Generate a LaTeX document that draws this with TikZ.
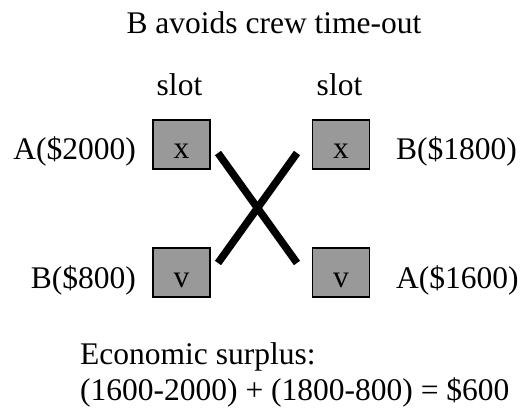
\documentclass[tikz,border=0pt]{standalone}
\usepackage{fontspec}
\setmainfont{Liberation Serif}
\definecolor{boxgray}{RGB}{153,153,153}
\begin{document}
\begin{tikzpicture}[x=1pt,y=-1pt,
  txt/.style={font=\fontsize{31.5}{36}\selectfont, inner sep=0pt},
  slotbox/.style={draw=black, line width=1.4pt, fill=boxgray, minimum width=57pt, minimum height=49pt, inner sep=0pt},
  cross/.style={line width=7.5pt}]
\useasboundingbox (0,0) rectangle (522,410);
\node[txt, anchor=base] (title) at (274,33) {B avoids crew time-out};
\node[txt, anchor=base] (slotL) at (179.5,95) {slot};
\node[txt, anchor=base] (slotR) at (339.5,95) {slot};
\node[slotbox] (xl) at (181.5,144.5) {};
\node[slotbox] (xr) at (341,144.5) {};
\node[slotbox] (vl) at (181.5,272.5) {};
\node[slotbox] (vr) at (341,272.5) {};
\node[txt, anchor=base] (xlt) at (xl.center |- 0,158.5) {x};
\node[txt, anchor=base] (xrt) at (xr.center |- 0,158.5) {x};
\node[txt, anchor=base] (vlt) at (vl.center |- 0,287) {v};
\node[txt, anchor=base] (vrt) at (vr.center |- 0,287) {v};
\node[txt, anchor=base east] (a2000) at (136,159.5) {A(\$2000)};
\node[txt, anchor=base east] (b800) at (136,288) {B(\$800)};
\node[txt, anchor=base west] (b1800) at (396,159.5) {B(\$1800)};
\node[txt, anchor=base west] (a1600) at (396,288) {A(\$1600)};
\coordinate (p1) at (218,153);
\coordinate (p2) at (297,263);
\coordinate (p3) at (297,153);
\coordinate (p4) at (218,263);
\draw[cross] (p1) -- (p2);
\draw[cross] (p3) -- (p4);
\node[txt, anchor=base west] (surplus1) at (80,364) {Economic surplus:};
\node[txt, anchor=base west] (surplus2) at (80,400) {(1600-2000) + (1800-800) = \$600};
\end{tikzpicture}
\end{document}
